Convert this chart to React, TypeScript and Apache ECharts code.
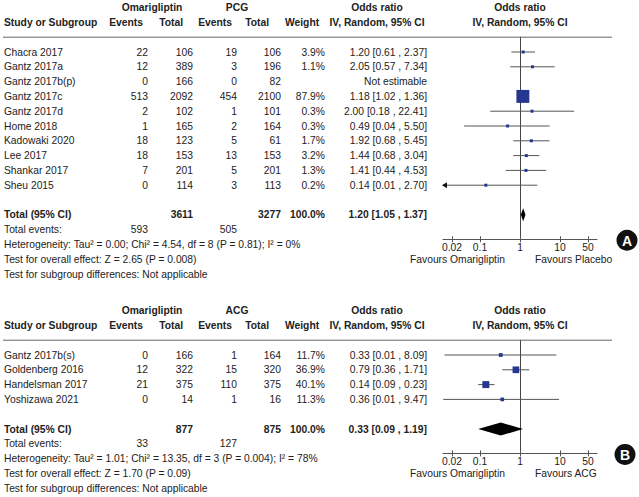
import React, { useEffect, useRef } from "react";
import * as echarts from "echarts";

// ---------- Data: panel A (Omarigliptin vs PCG) ----------
const studiesA = ["Chacra 2017", "Gantz 2017a", "Gantz 2017b(p)", "Gantz 2017c", "Gantz 2017d", "Home 2018", "Kadowaki 2020", "Lee 2017", "Shankar 2017", "Sheu 2015"];
const expEventsA = [22, 12, 0, 513, 2, 1, 18, 18, 7, 0];
const expTotalA = [106, 389, 166, 2092, 102, 165, 123, 153, 201, 114];
const ctlEventsA = [19, 3, 0, 454, 1, 2, 5, 13, 5, 3];
const ctlTotalA = [106, 196, 82, 2100, 101, 164, 61, 153, 201, 113];
const weightA: (number | null)[] = [3.9, 1.1, null, 87.9, 0.3, 0.3, 1.7, 3.2, 1.3, 0.2];
const orA: (number | null)[] = [1.2, 2.05, null, 1.18, 2.0, 0.49, 1.92, 1.44, 1.41, 0.14];
const lowerA: (number | null)[] = [0.61, 0.57, null, 1.02, 0.18, 0.04, 0.68, 0.68, 0.44, 0.007];
const upperA: (number | null)[] = [2.37, 7.34, null, 1.36, 22.41, 5.5, 5.45, 3.04, 4.53, 2.7];
const totalsA = [3611, 3277];
const totalEventsA = [593, 505];
const pooledA = [1.2, 1.05, 1.37];
const footerA = [
  "Heterogeneity: Tau² = 0.00; Chi² = 4.54, df = 8 (P = 0.81); I² = 0%",
  "Test for overall effect: Z = 2.65 (P = 0.008)",
  "Test for subgroup differences: Not applicable",
];
const favoursA = ["Favours Omarigliptin", "Favours Placebo"];

// ---------- Data: panel B (Omarigliptin vs ACG) ----------
const studiesB = ["Gantz 2017b(s)", "Goldenberg 2016", "Handelsman 2017", "Yoshizawa 2021"];
const expEventsB = [0, 12, 21, 0];
const expTotalB = [166, 322, 375, 14];
const ctlEventsB = [1, 15, 110, 1];
const ctlTotalB = [164, 320, 375, 16];
const weightB: (number | null)[] = [11.7, 36.9, 40.1, 11.3];
const orB: (number | null)[] = [0.33, 0.79, 0.14, 0.36];
const lowerB: (number | null)[] = [0.013, 0.36, 0.09, 0.012];
const upperB: (number | null)[] = [8.09, 1.71, 0.23, 9.47];
const totalsB = [877, 875];
const totalEventsB = [33, 127];
const pooledB = [0.33, 0.09, 1.19];
const footerB = [
  "Heterogeneity: Tau² = 1.01; Chi² = 13.35, df = 3 (P = 0.004); I² = 78%",
  "Test for overall effect: Z = 1.70 (P = 0.09)",
  "Test for subgroup differences: Not applicable",
];
const favoursB = ["Favours Omarigliptin", "Favours ACG"];

const tickValues = [0.02, 0.1, 1, 10, 50];
const tickLabels = ["0.02", "0.1", "1", "10", "50"];

// ---------- Layout / style ----------
const FF = '"Liberation Sans", Arial, sans-serif';
const FS = 10.3;
const TEXT = "#222";
const LINE = "#555";
const SQUARE = "#26378f";
const ROW_H = 14.8;
const XMIN = -1.925;
const XMAX = 1.925;
const PLOT_LEFT = 443;
const PLOT_W = 154;

const font = (bold: boolean) => `${bold ? "bold " : ""}${FS}px ${FF}`;

type Cell = { t: string; x: number | "plot" | "plotL" | "plotR"; a: "left" | "right" | "center"; b?: boolean };
type RowDesc = { row: number; cells: Cell[]; line?: boolean };

interface Panel {
  expName: string;
  ctlName: string;
  studies: string[];
  e1: number[]; t1: number[]; e2: number[]; t2: number[];
  w: (number | null)[]; or: (number | null)[]; lo: (number | null)[]; hi: (number | null)[];
  totals: number[]; totEvents: number[]; pooled: number[]; footer: string[]; favours: string[];
  top: number; sizeK: number; badge: string; badgeX: number;
}

const panels: Panel[] = [
  { expName: "Omarigliptin", ctlName: "PCG", studies: studiesA, e1: expEventsA, t1: expTotalA, e2: ctlEventsA, t2: ctlTotalA,
    w: weightA, or: orA, lo: lowerA, hi: upperA, totals: totalsA, totEvents: totalEventsA, pooled: pooledA,
    footer: footerA, favours: favoursA, top: 37.2, sizeK: 1.38, badge: "A", badgeX: 627 },
  { expName: "Omarigliptin", ctlName: "ACG", studies: studiesB, e1: expEventsB, t1: expTotalB, e2: ctlEventsB, t2: ctlTotalB,
    w: weightB, or: orB, lo: lowerB, hi: upperB, totals: totalsB, totEvents: totalEventsB, pooled: pooledB,
    footer: footerB, favours: favoursB, top: 340.2, sizeK: 1.1, badge: "B", badgeX: 625 },
];

const fmtCI = (o: number, l: number, h: number) => `${o.toFixed(2)} [${l.toFixed(2)} , ${h.toFixed(2)}]`;

function buildRows(p: Panel): RowDesc[] {
  const n = p.studies.length;
  const rows: RowDesc[] = [];
  rows.push({ row: -3, cells: [
    { t: p.expName, x: 152, a: "center", b: true },
    { t: p.ctlName, x: 237, a: "center", b: true },
    { t: "Odds ratio", x: 377, a: "center", b: true },
    { t: "Odds ratio", x: "plot", a: "center", b: true },
  ] });
  rows.push({ row: -2, cells: [
    { t: "Study or Subgroup", x: 4, a: "left", b: true },
    { t: "Events", x: 143, a: "right", b: true },
    { t: "Total", x: 183, a: "right", b: true },
    { t: "Events", x: 232, a: "right", b: true },
    { t: "Total", x: 269, a: "right", b: true },
    { t: "Weight", x: 285, a: "left", b: true },
    { t: "IV, Random, 95% CI", x: 377, a: "center", b: true },
    { t: "IV, Random, 95% CI", x: "plot", a: "center", b: true },
  ] });
  rows.push({ row: -1, cells: [], line: true });
  p.studies.forEach((s, i) => {
    const o = p.or[i], l = p.lo[i], h = p.hi[i], w = p.w[i];
    rows.push({ row: i, cells: [
      { t: s, x: 4, a: "left" },
      { t: String(p.e1[i]), x: 148, a: "right" },
      { t: String(p.t1[i]), x: 193, a: "right" },
      { t: String(p.e2[i]), x: 237, a: "right" },
      { t: String(p.t2[i]), x: 281, a: "right" },
      { t: w == null ? "" : `${w.toFixed(1)}%`, x: 325, a: "right" },
      { t: o == null || l == null || h == null ? "Not estimable" : fmtCI(o, l, h), x: 427, a: "right" },
    ] });
  });
  rows.push({ row: n + 1, cells: [
    { t: "Total (95% CI)", x: 4, a: "left", b: true },
    { t: String(p.totals[0]), x: 193, a: "right", b: true },
    { t: String(p.totals[1]), x: 281, a: "right", b: true },
    { t: "100.0%", x: 325, a: "right", b: true },
    { t: fmtCI(p.pooled[0], p.pooled[1], p.pooled[2]), x: 427, a: "right", b: true },
  ] });
  rows.push({ row: n + 2, cells: [
    { t: "Total events:", x: 4, a: "left" },
    { t: String(p.totEvents[0]), x: 148, a: "right" },
    { t: String(p.totEvents[1]), x: 237, a: "right" },
  ] });
  p.footer.forEach((f, k) => rows.push({ row: n + 3 + k, cells: [{ t: f, x: 4, a: "left" }] }));
  rows.push({ row: n + 4, cells: [
    { t: p.favours[0], x: "plotL", a: "right" },
    { t: p.favours[1], x: "plotR", a: "left" },
  ] });
  return rows;
}

function buildOption() {
  const grid: any[] = [];
  const xAxis: any[] = [];
  const yAxis: any[] = [];
  const series: any[] = [];
  const graphic: any[] = [];
  const logTicks = tickValues.map((v) => Math.log10(v));

  panels.forEach((p, gi) => {
    const n = p.studies.length;
    const yMax = n + 2.65;
    grid.push({ left: PLOT_LEFT, width: PLOT_W, top: p.top, height: (yMax + 1) * ROW_H });
    xAxis.push({
      type: "value", gridIndex: gi, min: XMIN, max: XMAX, position: "bottom",
      axisLine: { show: true, onZero: false, lineStyle: { color: LINE, width: 1 } },
      axisTick: { show: true, inside: false, length: 3, customValues: logTicks, lineStyle: { color: LINE } },
      axisLabel: {
        show: true, customValues: logTicks, margin: 3, color: TEXT, fontSize: FS, fontFamily: FF,
        formatter: (v: number) => {
          let best = 0;
          logTicks.forEach((t, k) => { if (Math.abs(t - v) < Math.abs(logTicks[best] - v)) best = k; });
          return tickLabels[best];
        },
      },
      splitLine: { show: false },
    });
    xAxis.push({
      type: "value", gridIndex: gi, min: XMIN, max: XMAX, position: "bottom",
      axisLine: { show: false, onZero: false },
      axisTick: { show: true, inside: true, length: 3, customValues: logTicks, lineStyle: { color: LINE } },
      axisLabel: { show: false },
      splitLine: { show: false },
    });
    yAxis.push({
      type: "value", gridIndex: gi, inverse: true, min: -1, max: yMax,
      axisLine: { show: true, onZero: true, lineStyle: { color: "#444", width: 1 } },
      axisTick: { show: false }, axisLabel: { show: false }, splitLine: { show: false },
    });
    const xi = gi * 2;

    // Table text
    const rows = buildRows(p);
    series.push({
      type: "custom", xAxisIndex: xi, yAxisIndex: gi, z: 1, silent: true, clip: false,
      encode: { x: 0, y: 1 },
      data: rows.map((r) => [0, r.row]),
      renderItem: (params: any, api: any) => {
        const r = rows[params.dataIndex];
        const pt = api.coord([0, r.row]);
        const y = pt[1];
        const children: any[] = [];
        if (r.line) {
          children.push({ type: "line", shape: { x1: 3, y1: y, x2: 612, y2: y }, style: { stroke: "#666", lineWidth: 1 } });
        }
        r.cells.forEach((c) => {
          let x: number;
          if (c.x === "plot") x = pt[0];
          else if (c.x === "plotL") x = pt[0] - 15;
          else if (c.x === "plotR") x = pt[0] + 15;
          else x = c.x;
          children.push({
            type: "text", x, y,
            style: { text: c.t, fill: TEXT, font: font(!!c.b), textAlign: c.a, textVerticalAlign: "middle", align: c.a, verticalAlign: "middle" },
          });
        });
        return { type: "group", children };
      },
    });

    // CI lines
    const ciData: number[][] = [];
    const sqData: number[][] = [];
    p.studies.forEach((_, i) => {
      const o = p.or[i], l = p.lo[i], h = p.hi[i], w = p.w[i];
      if (o == null || l == null || h == null || w == null) return;
      ciData.push([Math.log10(o), i, Math.log10(l), Math.log10(h)]);
      sqData.push([Math.log10(o), i, w]);
    });
    series.push({
      type: "custom", xAxisIndex: xi, yAxisIndex: gi, z: 2, silent: true, clip: false,
      encode: { x: 0, y: 1 },
      data: ciData,
      renderItem: (params: any, api: any) => {
        const row = api.value(1);
        const lo = api.value(2), hi = api.value(3);
        const p1 = api.coord([Math.max(lo, XMIN), row]);
        const p2 = api.coord([Math.min(hi, XMAX), row]);
        const children: any[] = [
          { type: "line", shape: { x1: p1[0], y1: p1[1], x2: p2[0], y2: p2[1] }, style: { stroke: LINE, lineWidth: 1 } },
        ];
        if (lo < XMIN) {
          children.push({ type: "polygon", shape: { points: [[p1[0] - 1, p1[1]], [p1[0] + 4, p1[1] - 3], [p1[0] + 4, p1[1] + 3]] }, style: { fill: "#111" } });
        }
        if (hi > XMAX) {
          children.push({ type: "polygon", shape: { points: [[p2[0] + 1, p2[1]], [p2[0] - 4, p2[1] - 3], [p2[0] - 4, p2[1] + 3]] }, style: { fill: "#111" } });
        }
        return { type: "group", children };
      },
    });

    // Weighted squares
    const k = p.sizeK;
    series.push({
      type: "scatter", xAxisIndex: xi, yAxisIndex: gi, z: 3, silent: true,
      symbol: "rect",
      symbolSize: (v: number[]) => Math.max(3, k * Math.sqrt(v[2])),
      itemStyle: { color: SQUARE, opacity: 1 },
      data: sqData,
    });

    // Pooled diamond
    series.push({
      type: "custom", xAxisIndex: xi, yAxisIndex: gi, z: 3, silent: true, clip: false,
      encode: { x: 0, y: 1 },
      data: [[Math.log10(p.pooled[0]), n + 1, Math.log10(p.pooled[1]), Math.log10(p.pooled[2])]],
      renderItem: (params: any, api: any) => {
        const row = api.value(1);
        const c = api.coord([api.value(0), row]);
        const l = api.coord([api.value(2), row]);
        const h = api.coord([api.value(3), row]);
        return {
          type: "polygon",
          shape: { points: [[l[0], c[1]], [c[0], c[1] - 6.5], [h[0], c[1]], [c[0], c[1] + 6.5]] },
          style: { fill: "#000" },
        };
      },
    });

    // Badge
    const badgeY = p.top + (yMax + 1) * ROW_H + 1;
    graphic.push({ type: "circle", shape: { cx: p.badgeX, cy: badgeY, r: 10.5 }, style: { fill: "#111" }, z: 10 });
    graphic.push({
      type: "text", x: p.badgeX, y: badgeY + 0.5, z: 11,
      style: { text: p.badge, fill: "#fff", font: `bold 14px ${FF}`, textAlign: "center", textVerticalAlign: "middle", align: "center", verticalAlign: "middle" },
    });
  });

  return { animation: false, backgroundColor: "#fff", grid, xAxis, yAxis, series, graphic };
}

export default function App() {
  const ref = useRef<HTMLDivElement>(null);
  useEffect(() => {
    if (!ref.current) return;
    const chart = echarts.init(ref.current, undefined, { renderer: "svg" });
    chart.setOption(buildOption() as any);
    return () => chart.dispose();
  }, []);
  return <div ref={ref} style={{ position: "absolute", left: 0, top: 0, width: 639, height: 497, background: "#fff" }} />;
}
